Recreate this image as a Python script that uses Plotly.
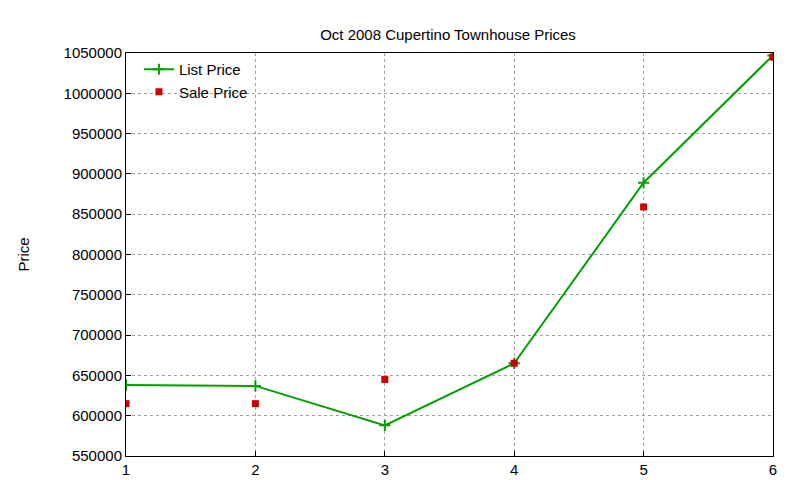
import plotly.graph_objects as go

x = [1, 2, 3, 4, 5, 6]
list_price = [638000, 637000, 588000, 665000, 889000, 1047000]
sale_price = [615000, 615000, 645000, 665000, 859000, 1045000]
yticks = list(range(550000, 1050001, 50000))

fig = go.Figure()
fig.add_trace(go.Scatter(x=x, y=list_price, mode="lines+markers", name="List Price",
                         line=dict(color="#00a000", width=2),
                         marker=dict(symbol="cross-thin", size=8, line=dict(color="#00a000", width=2))))
fig.add_trace(go.Scatter(x=x, y=sale_price, mode="markers", name="Sale Price",
                         marker=dict(symbol="square", size=7, color="#cc0000")))

ax = dict(showline=True, linecolor="black", mirror=True, gridcolor="#a0a0a0", griddash="dot",
          ticks="inside", tickcolor="black", zeroline=False, automargin=False)
fig.update_layout(
    width=800, height=480, paper_bgcolor="white", plot_bgcolor="white",
    font=dict(family="Liberation Sans, Arial", size=15, color="black"),
    title=dict(text="Oct 2008 Cupertino Townhouse Prices", x=0.55, y=0.955, font=dict(size=15)),
    margin=dict(l=118, r=35, t=45, b=32, pad=0),
    xaxis=dict(range=[1, 6], tickvals=x, **ax),
    yaxis=dict(range=[550000, 1050000], tickvals=yticks, tickformat="d",
               title=dict(text="Price", standoff=30, font=dict(size=15)), **ax),
    legend=dict(x=0.02, y=1.0, xanchor="left", yanchor="top", bgcolor="rgba(0,0,0,0)",
                font=dict(size=15), tracegroupgap=0),
)
fig.write_html("out.html")
